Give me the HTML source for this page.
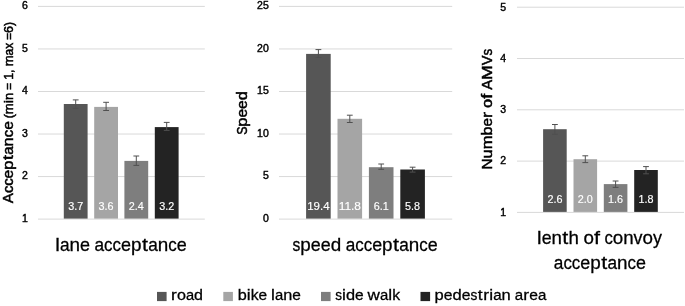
<!DOCTYPE html>
<html><head><meta charset="utf-8"><title>chart</title>
<style>html,body{margin:0;padding:0;background:#fff;}body{width:685px;height:306px;overflow:hidden;}svg{display:block;will-change:transform;}text{font-family:"Liberation Sans",sans-serif;fill:#000;stroke:#000;stroke-width:0.3px;}</style>
</head><body>
<svg width="685" height="306" viewBox="0 0 685 306">
<rect x="0" y="0" width="685" height="306" fill="#ffffff"/>
<rect x="38" y="5.9" width="166.8" height="1" fill="#d9d9d9"/>
<text transform="translate(27.8 9.2) scale(1.04 1)" font-size="10.1" text-anchor="end" style="stroke-width:0.4px">6</text>
<rect x="38" y="48.44" width="166.8" height="1" fill="#d9d9d9"/>
<text transform="translate(27.8 51.74) scale(1.04 1)" font-size="10.1" text-anchor="end" style="stroke-width:0.4px">5</text>
<rect x="38" y="90.98" width="166.8" height="1" fill="#d9d9d9"/>
<text transform="translate(27.8 94.28) scale(1.04 1)" font-size="10.1" text-anchor="end" style="stroke-width:0.4px">4</text>
<rect x="38" y="133.52" width="166.8" height="1" fill="#d9d9d9"/>
<text transform="translate(27.8 136.82) scale(1.04 1)" font-size="10.1" text-anchor="end" style="stroke-width:0.4px">3</text>
<rect x="38" y="176.06" width="166.8" height="1" fill="#d9d9d9"/>
<text transform="translate(27.8 179.36) scale(1.04 1)" font-size="10.1" text-anchor="end" style="stroke-width:0.4px">2</text>
<rect x="38" y="218.6" width="166.8" height="1" fill="#d9d9d9"/>
<text transform="translate(27.8 221.9) scale(1.04 1)" font-size="10.1" text-anchor="end" style="stroke-width:0.4px">1</text>
<rect x="63.8" y="104" width="23.8" height="114.6" fill="#565656"/>
<rect x="94.2" y="106.9" width="23.8" height="111.7" fill="#a5a5a5"/>
<rect x="124.4" y="160.9" width="23.8" height="57.7" fill="#7e7e7e"/>
<rect x="154.8" y="127.1" width="23.8" height="91.5" fill="#232323"/>
<path d="M72.8 99.9H78.6M72.8 108.4H78.6M75.7 99.9V108.4" stroke="#505050" stroke-width="1" fill="none"/>
<path d="M103.2 102.3H109M103.2 110.5H109M106.1 102.3V110.5" stroke="#505050" stroke-width="1" fill="none"/>
<path d="M133.4 156H139.2M133.4 165.4H139.2M136.3 156V165.4" stroke="#505050" stroke-width="1" fill="none"/>
<path d="M163.8 122.4H169.6M163.8 130.4H169.6M166.7 122.4V130.4" stroke="#505050" stroke-width="1" fill="none"/>
<text x="75.7" y="210.1" font-size="10.8" text-anchor="middle" style="fill:#fff;stroke:#fff;stroke-width:0.15px">3.7</text>
<text x="106.1" y="210.1" font-size="10.8" text-anchor="middle" style="fill:#fff;stroke:#fff;stroke-width:0.15px">3.6</text>
<text x="136.3" y="210.1" font-size="10.8" text-anchor="middle" style="fill:#fff;stroke:#fff;stroke-width:0.15px">2.4</text>
<text x="166.7" y="210.1" font-size="10.8" text-anchor="middle" style="fill:#fff;stroke:#fff;stroke-width:0.15px">3.2</text>
<rect x="279" y="5.9" width="173.2" height="1" fill="#d9d9d9"/>
<text transform="translate(268.8 9.2) scale(1.04 1)" font-size="10.1" text-anchor="end" style="stroke-width:0.4px">25</text>
<rect x="279" y="48.44" width="173.2" height="1" fill="#d9d9d9"/>
<text transform="translate(268.8 51.74) scale(1.04 1)" font-size="10.1" text-anchor="end" style="stroke-width:0.4px">20</text>
<rect x="279" y="90.98" width="173.2" height="1" fill="#d9d9d9"/>
<text transform="translate(268.8 94.28) scale(1.04 1)" font-size="10.1" text-anchor="end" style="stroke-width:0.4px">15</text>
<rect x="279" y="133.52" width="173.2" height="1" fill="#d9d9d9"/>
<text transform="translate(268.8 136.82) scale(1.04 1)" font-size="10.1" text-anchor="end" style="stroke-width:0.4px">10</text>
<rect x="279" y="176.06" width="173.2" height="1" fill="#d9d9d9"/>
<text transform="translate(268.8 179.36) scale(1.04 1)" font-size="10.1" text-anchor="end" style="stroke-width:0.4px">5</text>
<rect x="279" y="218.6" width="173.2" height="1" fill="#d9d9d9"/>
<text transform="translate(268.8 221.9) scale(1.04 1)" font-size="10.1" text-anchor="end" style="stroke-width:0.4px">0</text>
<rect x="306.1" y="53.9" width="24.6" height="164.7" fill="#565656"/>
<rect x="337.5" y="118.8" width="24.6" height="99.8" fill="#a5a5a5"/>
<rect x="368.9" y="167.2" width="24.6" height="51.4" fill="#7e7e7e"/>
<rect x="400.3" y="169.5" width="24.6" height="49.1" fill="#232323"/>
<path d="M315.5 49.6H321.3M315.5 57.5H321.3M318.4 49.6V57.5" stroke="#505050" stroke-width="1" fill="none"/>
<path d="M346.9 115.2H352.7M346.9 122.5H352.7M349.8 115.2V122.5" stroke="#505050" stroke-width="1" fill="none"/>
<path d="M378.3 164H384.1M378.3 169.3H384.1M381.2 164V169.3" stroke="#505050" stroke-width="1" fill="none"/>
<path d="M409.7 167.2H415.5M409.7 172.1H415.5M412.6 167.2V172.1" stroke="#505050" stroke-width="1" fill="none"/>
<text x="318.4" y="210.1" font-size="10.8" text-anchor="middle" textLength="22.3" lengthAdjust="spacingAndGlyphs" style="fill:#fff;stroke:#fff;stroke-width:0.15px">19.4</text>
<text x="349.8" y="210.1" font-size="10.8" text-anchor="middle" textLength="22.3" lengthAdjust="spacingAndGlyphs" style="fill:#fff;stroke:#fff;stroke-width:0.15px">11.8</text>
<text x="381.2" y="210.1" font-size="10.8" text-anchor="middle" style="fill:#fff;stroke:#fff;stroke-width:0.15px">6.1</text>
<text x="412.6" y="210.1" font-size="10.8" text-anchor="middle" style="fill:#fff;stroke:#fff;stroke-width:0.15px">5.8</text>
<rect x="517" y="6.7" width="167" height="1" fill="#d9d9d9"/>
<text transform="translate(506.1 10.5) scale(1.04 1)" font-size="10.1" text-anchor="end" style="stroke-width:0.4px">5</text>
<rect x="517" y="58" width="167" height="1" fill="#d9d9d9"/>
<text transform="translate(506.1 61.8) scale(1.04 1)" font-size="10.1" text-anchor="end" style="stroke-width:0.4px">4</text>
<rect x="517" y="109.3" width="167" height="1" fill="#d9d9d9"/>
<text transform="translate(506.1 113.1) scale(1.04 1)" font-size="10.1" text-anchor="end" style="stroke-width:0.4px">3</text>
<rect x="517" y="160.6" width="167" height="1" fill="#d9d9d9"/>
<text transform="translate(506.1 164.4) scale(1.04 1)" font-size="10.1" text-anchor="end" style="stroke-width:0.4px">2</text>
<rect x="517" y="211.9" width="167" height="1" fill="#d9d9d9"/>
<text transform="translate(506.1 215.7) scale(1.04 1)" font-size="10.1" text-anchor="end" style="stroke-width:0.4px">1</text>
<rect x="543.1" y="129.2" width="23.6" height="82.7" fill="#565656"/>
<rect x="573.5" y="159.2" width="23.6" height="52.7" fill="#a5a5a5"/>
<rect x="603.8" y="184.1" width="23.6" height="27.8" fill="#7e7e7e"/>
<rect x="634.2" y="170" width="23.6" height="41.9" fill="#232323"/>
<path d="M552 124.5H557.8M552 134.4H557.8M554.9 124.5V134.4" stroke="#505050" stroke-width="1" fill="none"/>
<path d="M582.4 155.8H588.2M582.4 162.6H588.2M585.3 155.8V162.6" stroke="#505050" stroke-width="1" fill="none"/>
<path d="M612.7 181H618.5M612.7 187.4H618.5M615.6 181V187.4" stroke="#505050" stroke-width="1" fill="none"/>
<path d="M643.1 166.6H648.9M643.1 173.8H648.9M646 166.6V173.8" stroke="#505050" stroke-width="1" fill="none"/>
<text x="554.9" y="203" font-size="10.8" text-anchor="middle" style="fill:#fff;stroke:#fff;stroke-width:0.15px">2.6</text>
<text x="585.3" y="203" font-size="10.8" text-anchor="middle" style="fill:#fff;stroke:#fff;stroke-width:0.15px">2.0</text>
<text x="615.6" y="203" font-size="10.8" text-anchor="middle" style="fill:#fff;stroke:#fff;stroke-width:0.15px">1.6</text>
<text x="646" y="203" font-size="10.8" text-anchor="middle" style="fill:#fff;stroke:#fff;stroke-width:0.15px">1.8</text>
<g transform="translate(13 203.2) rotate(-90)"><text transform="translate(0 0) scale(0.975 1)" font-size="15.5" style="stroke-width:0.5px">A</text><text transform="translate(10.08 0) scale(0.951 1)" font-size="15.5" style="stroke-width:0.5px">c</text><text transform="translate(17.45 0) scale(0.951 1)" font-size="15.5" style="stroke-width:0.5px">c</text><text transform="translate(24.82 0) scale(1.006 1)" font-size="15.5" style="stroke-width:0.5px">e</text><text transform="translate(33.49 0) scale(1.061 1)" font-size="15.5" style="stroke-width:0.5px">p</text><text transform="translate(43.08 0) scale(1.150 1)" font-size="15.5" style="stroke-width:0.5px">t</text><text transform="translate(48.47 0) scale(0.968 1)" font-size="15.5" style="stroke-width:0.5px">a</text><text transform="translate(56.81 0) scale(1.061 1)" font-size="15.5" style="stroke-width:0.5px">n</text><text transform="translate(65.96 0) scale(0.951 1)" font-size="15.5" style="stroke-width:0.5px">c</text><text transform="translate(73.33 0) scale(1.006 1)" font-size="15.5" style="stroke-width:0.5px">e</text></g>
<g transform="translate(12.8 118.3) rotate(-90)"><text transform="translate(0 0) scale(1.022 1)" font-size="12.2" style="stroke-width:0.5px">(</text><text transform="translate(4.15 0) scale(1.077 1)" font-size="12.2" style="stroke-width:0.5px">m</text><text transform="translate(15.11 0) scale(1.150 1)" font-size="12.2" style="stroke-width:0.5px">i</text><text transform="translate(18.24 0) scale(1.060 1)" font-size="12.2" style="stroke-width:0.5px">n</text><text transform="translate(28.53 0) scale(0.958 1)" font-size="12.2" style="stroke-width:0.5px">=</text><text transform="translate(38.46 0) scale(1.024 1)" font-size="12.2" style="stroke-width:0.5px">1</text><text transform="translate(45.4 0) scale(1.011 1)" font-size="12.2" style="stroke-width:0.5px">,</text><text transform="translate(51.93 0) scale(1.077 1)" font-size="12.2" style="stroke-width:0.5px">m</text><text transform="translate(62.88 0) scale(0.968 1)" font-size="12.2" style="stroke-width:0.5px">a</text><text transform="translate(69.44 0) scale(0.973 1)" font-size="12.2" style="stroke-width:0.5px">x</text><text transform="translate(78.47 0) scale(0.958 1)" font-size="12.2" style="stroke-width:0.5px">=</text><text transform="translate(85.3 0) scale(1.024 1)" font-size="12.2" style="stroke-width:0.5px">6</text><text transform="translate(92.25 0) scale(1.022 1)" font-size="12.2" style="stroke-width:0.5px">)</text></g>
<g transform="translate(247 134.6) rotate(-90)"><text transform="translate(-0.16 0) scale(0.800 1)" font-size="15.5" style="stroke-width:0.5px">S</text><text transform="translate(7.95 0) scale(1.055 1)" font-size="15.5" style="stroke-width:0.5px">p</text><text transform="translate(17.05 0) scale(1.001 1)" font-size="15.5" style="stroke-width:0.5px">e</text><text transform="translate(25.68 0) scale(1.001 1)" font-size="15.5" style="stroke-width:0.5px">e</text><text transform="translate(34.3 0) scale(1.055 1)" font-size="15.5" style="stroke-width:0.5px">d</text></g>
<g transform="translate(492.2 169.5) rotate(-90)"><text transform="translate(0 0) scale(0.993 1)" font-size="15.5" style="stroke-width:0.5px">N</text><text transform="translate(11.12 0) scale(1.048 1)" font-size="15.5" style="stroke-width:0.5px">u</text><text transform="translate(20.16 0) scale(1.065 1)" font-size="15.5" style="stroke-width:0.5px">m</text><text transform="translate(33.91 0) scale(1.048 1)" font-size="15.5" style="stroke-width:0.5px">b</text><text transform="translate(42.95 0) scale(0.994 1)" font-size="15.5" style="stroke-width:0.5px">e</text><text transform="translate(51.55 0) scale(1.150 1)" font-size="15.5" style="stroke-width:0.5px">r</text><text transform="translate(61.42 0) scale(1.052 1)" font-size="15.5" style="stroke-width:0.5px">o</text><text transform="translate(70.64 0) scale(1.150 1)" font-size="15.5" style="stroke-width:0.5px">f</text><text transform="translate(79.63 0) scale(0.964 1)" font-size="15.5" style="stroke-width:0.5px">A</text><text transform="translate(89.59 0) scale(1.140 1)" font-size="15.5" style="stroke-width:0.5px">M</text><text transform="translate(104.31 0) scale(0.944 1)" font-size="15.5" style="stroke-width:0.5px">V</text><text transform="translate(114.07 0) scale(0.868 1)" font-size="15.5" style="stroke-width:0.5px">s</text></g>
<g><text transform="translate(55.3 250.5) scale(1.098 1)" font-size="18.8" style="stroke-width:0.28px">l</text><text transform="translate(59.89 250.5) scale(0.918 1)" font-size="18.8" style="stroke-width:0.28px">a</text><text transform="translate(69.48 250.5) scale(1.006 1)" font-size="18.8" style="stroke-width:0.28px">n</text><text transform="translate(80 250.5) scale(0.954 1)" font-size="18.8" style="stroke-width:0.28px">e</text><text transform="translate(94.5 250.5) scale(0.918 1)" font-size="18.8" style="stroke-width:0.28px">a</text><text transform="translate(104.09 250.5) scale(0.901 1)" font-size="18.8" style="stroke-width:0.28px">c</text><text transform="translate(112.57 250.5) scale(0.901 1)" font-size="18.8" style="stroke-width:0.28px">c</text><text transform="translate(121.04 250.5) scale(0.954 1)" font-size="18.8" style="stroke-width:0.28px">e</text><text transform="translate(131.02 250.5) scale(1.006 1)" font-size="18.8" style="stroke-width:0.28px">p</text><text transform="translate(141.88 250.5) scale(1.150 1)" font-size="18.8" style="stroke-width:0.28px">t</text><text transform="translate(148.24 250.5) scale(0.918 1)" font-size="18.8" style="stroke-width:0.28px">a</text><text transform="translate(157.84 250.5) scale(1.006 1)" font-size="18.8" style="stroke-width:0.28px">n</text><text transform="translate(168.35 250.5) scale(0.901 1)" font-size="18.8" style="stroke-width:0.28px">c</text><text transform="translate(176.82 250.5) scale(0.954 1)" font-size="18.8" style="stroke-width:0.28px">e</text></g>
<g><text transform="translate(292.5 250.5) scale(0.831 1)" font-size="18.8" style="stroke-width:0.28px">s</text><text transform="translate(300.31 250.5) scale(1.003 1)" font-size="18.8" style="stroke-width:0.28px">p</text><text transform="translate(310.79 250.5) scale(0.951 1)" font-size="18.8" style="stroke-width:0.28px">e</text><text transform="translate(320.74 250.5) scale(0.951 1)" font-size="18.8" style="stroke-width:0.28px">e</text><text transform="translate(330.68 250.5) scale(1.003 1)" font-size="18.8" style="stroke-width:0.28px">d</text><text transform="translate(345.68 250.5) scale(0.915 1)" font-size="18.8" style="stroke-width:0.28px">a</text><text transform="translate(355.24 250.5) scale(0.899 1)" font-size="18.8" style="stroke-width:0.28px">c</text><text transform="translate(363.69 250.5) scale(0.899 1)" font-size="18.8" style="stroke-width:0.28px">c</text><text transform="translate(372.14 250.5) scale(0.951 1)" font-size="18.8" style="stroke-width:0.28px">e</text><text transform="translate(382.08 250.5) scale(1.003 1)" font-size="18.8" style="stroke-width:0.28px">p</text><text transform="translate(392.91 250.5) scale(1.150 1)" font-size="18.8" style="stroke-width:0.28px">t</text><text transform="translate(399.26 250.5) scale(0.915 1)" font-size="18.8" style="stroke-width:0.28px">a</text><text transform="translate(408.82 250.5) scale(1.003 1)" font-size="18.8" style="stroke-width:0.28px">n</text><text transform="translate(419.31 250.5) scale(0.899 1)" font-size="18.8" style="stroke-width:0.28px">c</text><text transform="translate(427.76 250.5) scale(0.951 1)" font-size="18.8" style="stroke-width:0.28px">e</text></g>
<g><text transform="translate(537.1 243.9) scale(1.086 1)" font-size="18.8" style="stroke-width:0.28px">l</text><text transform="translate(541.64 243.9) scale(0.944 1)" font-size="18.8" style="stroke-width:0.28px">e</text><text transform="translate(551.51 243.9) scale(0.995 1)" font-size="18.8" style="stroke-width:0.28px">n</text><text transform="translate(562.23 243.9) scale(1.150 1)" font-size="18.8" style="stroke-width:0.28px">t</text><text transform="translate(568.55 243.9) scale(0.995 1)" font-size="18.8" style="stroke-width:0.28px">h</text><text transform="translate(583.43 243.9) scale(0.999 1)" font-size="18.8" style="stroke-width:0.28px">o</text><text transform="translate(593.89 243.9) scale(1.150 1)" font-size="18.8" style="stroke-width:0.28px">f</text><text transform="translate(604.4 243.9) scale(0.892 1)" font-size="18.8" style="stroke-width:0.28px">c</text><text transform="translate(612.78 243.9) scale(0.999 1)" font-size="18.8" style="stroke-width:0.28px">o</text><text transform="translate(623.22 243.9) scale(0.995 1)" font-size="18.8" style="stroke-width:0.28px">n</text><text transform="translate(633.62 243.9) scale(0.953 1)" font-size="18.8" style="stroke-width:0.28px">v</text><text transform="translate(642.58 243.9) scale(0.999 1)" font-size="18.8" style="stroke-width:0.28px">o</text><text transform="translate(653.02 243.9) scale(0.955 1)" font-size="18.8" style="stroke-width:0.28px">y</text></g>
<g><text transform="translate(553.8 268.7) scale(0.917 1)" font-size="18.8" style="stroke-width:0.28px">a</text><text transform="translate(563.38 268.7) scale(0.900 1)" font-size="18.8" style="stroke-width:0.28px">c</text><text transform="translate(571.85 268.7) scale(0.900 1)" font-size="18.8" style="stroke-width:0.28px">c</text><text transform="translate(580.31 268.7) scale(0.953 1)" font-size="18.8" style="stroke-width:0.28px">e</text><text transform="translate(590.28 268.7) scale(1.005 1)" font-size="18.8" style="stroke-width:0.28px">p</text><text transform="translate(601.13 268.7) scale(1.150 1)" font-size="18.8" style="stroke-width:0.28px">t</text><text transform="translate(607.48 268.7) scale(0.917 1)" font-size="18.8" style="stroke-width:0.28px">a</text><text transform="translate(617.07 268.7) scale(1.005 1)" font-size="18.8" style="stroke-width:0.28px">n</text><text transform="translate(627.57 268.7) scale(0.900 1)" font-size="18.8" style="stroke-width:0.28px">c</text><text transform="translate(636.04 268.7) scale(0.953 1)" font-size="18.8" style="stroke-width:0.28px">e</text></g>
<rect x="157" y="291.9" width="9.6" height="9.2" fill="#565656"/>
<g><text transform="translate(171.08 300.4) scale(1.150 1)" font-size="15.1" style="stroke-width:0.28px">r</text><text transform="translate(176.94 300.4) scale(1.068 1)" font-size="15.1" style="stroke-width:0.28px">o</text><text transform="translate(185.91 300.4) scale(0.971 1)" font-size="15.1" style="stroke-width:0.28px">a</text><text transform="translate(194.06 300.4) scale(1.064 1)" font-size="15.1" style="stroke-width:0.28px">d</text></g>
<rect x="223.3" y="291.9" width="9.6" height="9.2" fill="#a5a5a5"/>
<g><text transform="translate(237.7 300.4) scale(1.078 1)" font-size="15.1" style="stroke-width:0.28px">b</text><text transform="translate(246.8 300.4) scale(1.150 1)" font-size="15.1" style="stroke-width:0.28px">i</text><text transform="translate(250.71 300.4) scale(1.040 1)" font-size="15.1" style="stroke-width:0.28px">k</text><text transform="translate(258.55 300.4) scale(1.023 1)" font-size="15.1" style="stroke-width:0.28px">e</text><text transform="translate(271.09 300.4) scale(1.150 1)" font-size="15.1" style="stroke-width:0.28px">l</text><text transform="translate(274.99 300.4) scale(0.984 1)" font-size="15.1" style="stroke-width:0.28px">a</text><text transform="translate(283.25 300.4) scale(1.078 1)" font-size="15.1" style="stroke-width:0.28px">n</text><text transform="translate(292.31 300.4) scale(1.023 1)" font-size="15.1" style="stroke-width:0.28px">e</text></g>
<rect x="321" y="291.9" width="9.6" height="9.2" fill="#7e7e7e"/>
<g><text transform="translate(335.2 300.4) scale(0.897 1)" font-size="15.1" style="stroke-width:0.28px">s</text><text transform="translate(342.03 300.4) scale(1.150 1)" font-size="15.1" style="stroke-width:0.28px">i</text><text transform="translate(345.94 300.4) scale(1.083 1)" font-size="15.1" style="stroke-width:0.28px">d</text><text transform="translate(355.03 300.4) scale(1.027 1)" font-size="15.1" style="stroke-width:0.28px">e</text><text transform="translate(367.57 300.4) scale(1.136 1)" font-size="15.1" style="stroke-width:0.28px">w</text><text transform="translate(379.96 300.4) scale(0.988 1)" font-size="15.1" style="stroke-width:0.28px">a</text><text transform="translate(388.31 300.4) scale(1.150 1)" font-size="15.1" style="stroke-width:0.28px">l</text><text transform="translate(392.22 300.4) scale(1.044 1)" font-size="15.1" style="stroke-width:0.28px">k</text></g>
<rect x="420.5" y="291.9" width="9.6" height="9.2" fill="#232323"/>
<g><text transform="translate(434.6 300.4) scale(1.094 1)" font-size="15.1" style="stroke-width:0.28px">p</text><text transform="translate(443.78 300.4) scale(1.037 1)" font-size="15.1" style="stroke-width:0.28px">e</text><text transform="translate(452.5 300.4) scale(1.094 1)" font-size="15.1" style="stroke-width:0.28px">d</text><text transform="translate(461.68 300.4) scale(1.037 1)" font-size="15.1" style="stroke-width:0.28px">e</text><text transform="translate(470.39 300.4) scale(0.906 1)" font-size="15.1" style="stroke-width:0.28px">s</text><text transform="translate(477.75 300.4) scale(1.150 1)" font-size="15.1" style="stroke-width:0.28px">t</text><text transform="translate(483.26 300.4) scale(1.150 1)" font-size="15.1" style="stroke-width:0.28px">r</text><text transform="translate(489.27 300.4) scale(1.150 1)" font-size="15.1" style="stroke-width:0.28px">i</text><text transform="translate(493.21 300.4) scale(0.998 1)" font-size="15.1" style="stroke-width:0.28px">a</text><text transform="translate(501.59 300.4) scale(1.094 1)" font-size="15.1" style="stroke-width:0.28px">n</text><text transform="translate(514.72 300.4) scale(0.998 1)" font-size="15.1" style="stroke-width:0.28px">a</text><text transform="translate(523.26 300.4) scale(1.150 1)" font-size="15.1" style="stroke-width:0.28px">r</text><text transform="translate(529.21 300.4) scale(1.037 1)" font-size="15.1" style="stroke-width:0.28px">e</text><text transform="translate(537.92 300.4) scale(0.998 1)" font-size="15.1" style="stroke-width:0.28px">a</text></g>
</svg>
</body></html>
